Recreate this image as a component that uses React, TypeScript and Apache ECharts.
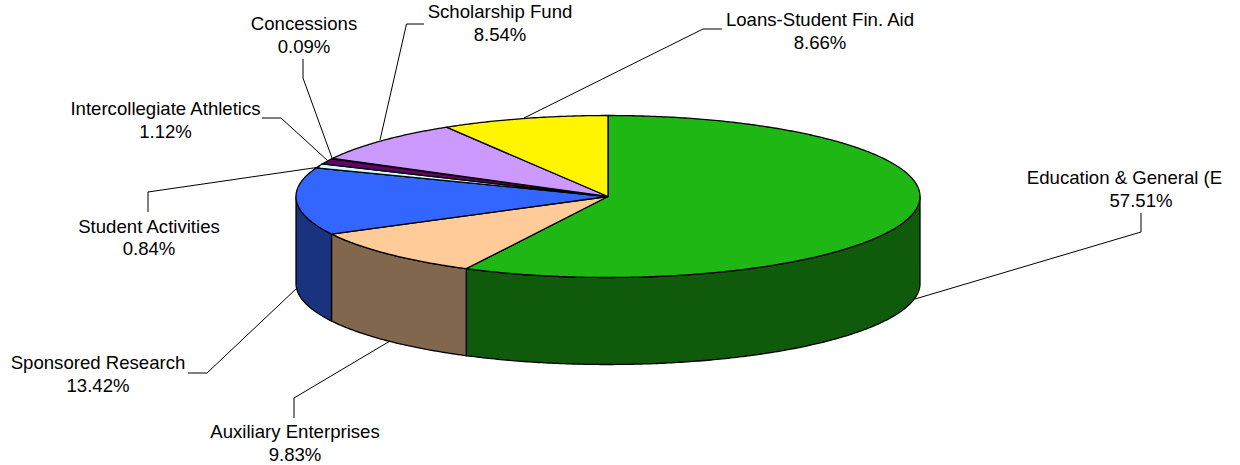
import React, { useEffect, useRef } from "react";
import * as echarts from "echarts";

const categories = [
  "Education & General (E",
  "Auxiliary Enterprises",
  "Sponsored Research",
  "Student Activities",
  "Intercollegiate Athletics",
  "Concessions",
  "Scholarship Fund",
  "Loans-Student Fin. Aid",
];
const shares = [57.51, 9.83, 13.42, 0.84, 1.12, 0.09, 8.54, 8.66];
const percentLabels = ["57.51%", "9.83%", "13.42%", "0.84%", "1.12%", "0.09%", "8.54%", "8.66%"];
const topColors = ["#1FB714", "#FFCC99", "#3366FF", "#CCFFFF", "#660066", "#FF8080", "#CC99FF", "#FFF500"];
const sideColors = ["#105B0B", "#80674D", "#19337F", "#668080", "#330033", "#804040", "#664D80", "#807A00"];

// Layout of the pie
const CX = 608;
const CY = 196.5;
const RX = 312;
const RY = 81;
const DEPTH = 87;
const FONT = 18.6;

// Label anchors [name x, name y, percent x, percent y]
const labelPos = [
  [1124.5, 177, 1141, 200],
  [295, 431, 295, 454],
  [98, 362, 98, 385],
  [149, 226, 149, 248],
  [165.5, 108, 165.5, 131],
  [304, 23, 304, 46],
  [500, 11, 500, 34],
  [820, 19, 820, 42],
];
// Leader lines
const leaders = [
  [[915, 299], [1141, 232], [1141, 213]],
  [[390, 341], [294, 398], [294, 418]],
  [[297, 288], [207, 373], [188, 373]],
  [[320, 167], [148, 192], [148, 212]],
  [[327, 160], [281, 118], [262, 118]],
  [[332, 158], [303, 78], [303, 59]],
  [[380, 140], [406.5, 24], [424, 24]],
  [[524, 118], [703, 29], [722, 29]],
];

const total = shares.reduce((a, b) => a + b, 0);
const cumulative: number[] = [];
shares.reduce((acc, v, i) => {
  cumulative[i] = acc;
  return acc + v;
}, 0);

const toAngle = (v: number) => (v / total) * Math.PI * 2;
const rimPoint = (a: number, dy = 0) => [CX + RX * Math.sin(a), CY - RY * Math.cos(a) + dy];
const arcPoints = (a0: number, a1: number, dy = 0) => {
  const n = Math.max(2, Math.ceil(Math.abs(a1 - a0) / 0.01));
  const pts: number[][] = [];
  for (let i = 0; i <= n; i++) pts.push(rimPoint(a0 + ((a1 - a0) * i) / n, dy));
  return pts;
};

const renderSide = (_: any, api: any) => {
  const start = toAngle(api.value(0));
  const end = start + toAngle(api.value(1));
  const a0 = Math.max(start, Math.PI / 2);
  const a1 = Math.min(end, (Math.PI * 3) / 2);
  if (a1 <= a0) return null;
  const points = [...arcPoints(a0, a1, 0), ...arcPoints(a1, a0, DEPTH)];
  return {
    type: "polygon",
    shape: { points },
    style: { fill: sideColors[api.value(2)], stroke: "#000", lineWidth: 1.3 },
  };
};

const renderTop = (_: any, api: any) => {
  const start = toAngle(api.value(0));
  const end = start + toAngle(api.value(1));
  const points = [[CX, CY], ...arcPoints(start, end)];
  return {
    type: "polygon",
    shape: { points },
    style: { fill: topColors[api.value(2)], stroke: "#000", lineWidth: 1.3, lineJoin: "round" },
  };
};

export default function App() {
  const ref = useRef<HTMLDivElement>(null);
  useEffect(() => {
    document.body.style.margin = "0";
    const chart = echarts.init(ref.current!, undefined, { renderer: "svg" });
    const seriesData = shares.map((v, i) => [cumulative[i], v, i]);
    const graphicItems: any[] = [];
    leaders.forEach((pts) => {
      graphicItems.push({
        type: "polyline",
        shape: { points: pts },
        style: { stroke: "#000", lineWidth: 1, fill: "none" },
        z: 10,
      });
    });
    categories.forEach((name, i) => {
      const [x1, y1, x2, y2] = labelPos[i];
      [
        [name, x1, y1],
        [percentLabels[i], x2, y2],
      ].forEach(([text, x, y]) => {
        graphicItems.push({
          type: "text",
          x: x as number,
          y: y as number,
          style: {
            text: text as string,
            fill: "#000",
            font: `${FONT}px "Liberation Sans", Arial, sans-serif`,
            align: "center",
            verticalAlign: "middle",
          },
          z: 11,
        });
      });
    });
    chart.setOption({
      animation: false,
      backgroundColor: "#ffffff",
      series: [
        {
          type: "custom",
          coordinateSystem: "none",
          renderItem: renderSide,
          data: seriesData,
          silent: true,
          z: 2,
        },
        {
          type: "custom",
          coordinateSystem: "none",
          renderItem: renderTop,
          data: seriesData,
          silent: true,
          z: 3,
        },
      ],
      graphic: graphicItems,
    });
    return () => chart.dispose();
  }, []);
  return <div ref={ref} style={{ position: "fixed", left: 0, top: 0, width: 1240, height: 465 }} />;
}
